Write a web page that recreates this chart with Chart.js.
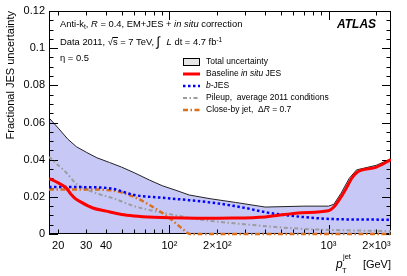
<!DOCTYPE html>
<html>
<head>
<meta charset="utf-8">
<script src="https://cdn.jsdelivr.net/npm/chart.js@4"></script>
<style>
  html, body { margin: 0; padding: 0; background: #fff; }
  canvas { display: block; }
</style>
</head>
<body>
<canvas id="jesChart" width="407" height="276"></canvas>
<script>
// Valeurs (pT en GeV, incertitude relative)
const totalPt = [17.5, 20, 23, 26, 30, 35, 42, 50, 60, 75, 90, 110, 133, 180, 260, 400, 700, 1000, 1080, 1200, 1350, 1500, 2000, 2470]
const totalUnc = [0.0625, 0.057, 0.051, 0.047, 0.044, 0.041, 0.0385, 0.036, 0.033, 0.029, 0.026, 0.0235, 0.021, 0.019, 0.017, 0.0145, 0.015, 0.015, 0.016, 0.022, 0.030, 0.0345, 0.037, 0.0405]

const baselinePt = [17.5, 20, 22.5, 24, 25.5, 28, 33, 40, 50, 60, 80, 100, 150, 250, 400, 680, 1000, 1080, 1200, 1300, 1400, 1500, 2000, 2470]
const baselineUnc = [0.0298, 0.0275, 0.0247, 0.0215, 0.0192, 0.017, 0.014, 0.0123, 0.0105, 0.0097, 0.009, 0.0087, 0.0085, 0.0086, 0.0092, 0.0115, 0.0125, 0.0145, 0.020, 0.025, 0.030, 0.033, 0.036, 0.040]

const bjesPt = [17.5, 30, 43, 60, 90, 133, 200, 300, 414, 680, 1100, 2470]
const bjesUnc = [0.0253, 0.0252, 0.0245, 0.021, 0.0195, 0.0182, 0.0165, 0.014, 0.0115, 0.0092, 0.008, 0.0077]

const pileupPt = [17.5, 20, 22.5, 26, 33, 45, 60, 100, 155, 275, 680, 2470]
const pileupUnc = [0.0415, 0.037, 0.033, 0.027, 0.0226, 0.019, 0.015, 0.0107, 0.0078, 0.0055, 0.0028, 0.0015]

const closebyPt = [17.5, 30, 43, 56, 75, 100, 120, 135, 2470]
const closebyUnc = [0.024, 0.024, 0.0235, 0.021, 0.0156, 0.0086, 0.003, 0, 0]

// Axes
const xTickVals = [20, 30, 40, 100, 200, 1000, 2000]
const xTickLabels = ['20', '30', '40', '10²', '2×10²', '10³', '2×10³']
const yTickVals = [0, 0.02, 0.04, 0.06, 0.08, 0.1, 0.12]
const yTickLabels = ['0', '0.02', '0.04', '0.06', '0.08', '0.1', '0.12']

const toPoints = (xs, ys) => xs.map((x, i) => ({ x: x, y: ys[i] }))

const FONT = '"Liberation Sans", Arial, Helvetica, sans-serif'

// Dessine une suite de morceaux de texte (normal, italique, indice, exposant)
function drawRuns(ctx, x, y, runs, size) {
    runs.forEach(r => {
        const s = r.small ? size * 0.7 : size
        ctx.font = (r.it ? 'italic ' : '') + s + 'px ' + FONT
        ctx.fillText(r.t, x, y + (r.dy || 0))
        x += ctx.measureText(r.t).width
    })
    return x
}

// Cadre et graduations : dessinés juste après le remplissage, sous les courbes
function drawFrame(chart) {
    const ctx = chart.ctx
    const area = chart.chartArea
    const xs = chart.scales.x
    const ys = chart.scales.y
    ctx.save()
    ctx.strokeStyle = '#000'
    ctx.lineWidth = 1
    ctx.strokeRect(area.left + 0.5, area.top + 0.5, area.right - area.left - 1, area.bottom - area.top - 1)

    ctx.beginPath()
    for (let v = 0; v <= 0.12 + 1e-9; v += 0.005) {
        const py = Math.round(ys.getPixelForValue(v)) + 0.5
        const major = Math.abs(v / 0.02 - Math.round(v / 0.02)) < 1e-6
        const len = major ? 9 : 4.5
        ctx.moveTo(area.left, py); ctx.lineTo(area.left + len, py)
        ctx.moveTo(area.right, py); ctx.lineTo(area.right - len, py)
    }
    for (let dec = 10; dec <= 1000; dec *= 10) {
        for (let k = 1; k <= 9; k++) {
            const v = dec * k
            if (v < xs.min || v > xs.max) continue
            const px = Math.round(xs.getPixelForValue(v)) + 0.5
            const len = k === 1 ? 9 : 4.5
            ctx.moveTo(px, area.bottom); ctx.lineTo(px, area.bottom - len)
            ctx.moveTo(px, area.top); ctx.lineTo(px, area.top + len)
        }
    }
    ctx.stroke()
    ctx.restore()
}

const atlasPlugin = {
    id: 'atlasDecor',
    afterDatasetDraw(chart, args) {
        if (args.index === 0) drawFrame(chart)
    },
    afterDraw(chart) {
        const ctx = chart.ctx
        const area = chart.chartArea
        const xs = chart.scales.x
        const ys = chart.scales.y
        ctx.save()
        ctx.fillStyle = '#000'
        ctx.strokeStyle = '#000'
        ctx.lineWidth = 1

        // étiquettes Y
        ctx.font = '11px ' + FONT
        ctx.textAlign = 'right'
        ctx.textBaseline = 'middle'
        yTickVals.forEach((v, i) => {
            ctx.fillText(yTickLabels[i], area.left - 4, ys.getPixelForValue(v))
        })
        // étiquettes X
        ctx.textAlign = 'center'
        ctx.textBaseline = 'top'
        xTickVals.forEach((v, i) => {
            ctx.fillText(xTickLabels[i], xs.getPixelForValue(v), area.bottom + 6)
        })

        // titre Y
        ctx.save()
        ctx.translate(14, area.top)
        ctx.rotate(-Math.PI / 2)
        ctx.textAlign = 'right'
        ctx.textBaseline = 'alphabetic'
        ctx.font = '11px ' + FONT
        ctx.fillText('Fractional JES uncertainty', 0, 0)
        ctx.restore()

        // titre X
        ctx.textAlign = 'left'
        ctx.textBaseline = 'alphabetic'
        ctx.font = '11px ' + FONT
        const gevW = ctx.measureText('[GeV]').width
        ctx.fillText('[GeV]', area.right - gevW, 268)
        ctx.font = 'italic 12px ' + FONT
        ctx.fillText('p', 336, 268)
        ctx.font = '7.5px ' + FONT
        ctx.fillText('T', 342, 273)
        ctx.fillText('jet', 343, 259)

        // textes de l'analyse
        const s = 9.4
        drawRuns(ctx, 60, 27, [
            { t: 'Anti-k' }, { t: 't', small: true, dy: 2 }, { t: ', ' }, { t: 'R', it: true },
            { t: ' = 0.4, EM+JES + ' }, { t: 'in situ', it: true }, { t: ' correction' }
        ], s)
        let xe = drawRuns(ctx, 60, 45, [{ t: 'Data 2011, ' }], s)
        ctx.font = s + 'px ' + FONT
        ctx.fillText('√', xe, 45)
        const rw = ctx.measureText('√').width
        ctx.beginPath()
        ctx.moveTo(xe + rw - 0.5, 37.5); ctx.lineTo(xe + rw + 5, 37.5)
        ctx.stroke()
        xe = drawRuns(ctx, xe + rw, 45, [{ t: 's' }, { t: ' = 7 TeV, ' }], s)
        ctx.font = '13px ' + FONT
        ctx.fillText('∫', xe, 46)
        drawRuns(ctx, xe + 10, 45, [
            { t: 'L', it: true }, { t: ' dt = 4.7 fb' }, { t: '-1', small: true, dy: -3.5 }
        ], s)
        drawRuns(ctx, 60, 61, [{ t: 'η = 0.5' }], s)

        ctx.font = 'italic bold 12px ' + FONT
        ctx.fillText('ATLAS', 337, 28)

        // légende
        const ls = 8.5
        const lx0 = 183, lx1 = 200, tx = 206
        const rows = [62, 74, 86, 98, 110]
        ctx.textBaseline = 'middle'
        ctx.fillStyle = '#e6e6e6'
        ctx.fillRect(lx0, rows[0] - 4, lx1 - lx0, 8)
        ctx.strokeRect(lx0 + 0.5, rows[0] - 3.5, lx1 - lx0 - 1, 7)
        ctx.fillStyle = '#000'
        const legendLine = (ds, y) => {
            ctx.save()
            ctx.strokeStyle = ds.borderColor
            ctx.lineWidth = ds.borderWidth
            ctx.setLineDash(ds.borderDash || [])
            ctx.beginPath()
            ctx.moveTo(lx0, y); ctx.lineTo(lx1, y)
            ctx.stroke()
            ctx.restore()
        }
        const dss = chart.data.datasets
        legendLine(dss[1], rows[1])
        legendLine(dss[2], rows[2])
        legendLine(dss[3], rows[3])
        legendLine(dss[4], rows[4])
        drawRuns(ctx, tx, rows[0], [{ t: 'Total uncertainty' }], ls)
        drawRuns(ctx, tx, rows[1], [{ t: 'Baseline ' }, { t: 'in situ', it: true }, { t: ' JES' }], ls)
        drawRuns(ctx, tx, rows[2], [{ t: 'b', it: true }, { t: '-JES' }], ls)
        drawRuns(ctx, tx, rows[3], [{ t: 'Pileup,  average 2011 conditions' }], ls)
        drawRuns(ctx, tx, rows[4], [{ t: 'Close-by jet,  Δ' }, { t: 'R', it: true }, { t: ' = 0.7' }], ls)
        ctx.restore()
    }
}

const config = {
    type: 'line',
    data: {
        datasets: [
            {
                label: 'Total uncertainty',
                data: toPoints(totalPt, totalUnc),
                borderColor: '#222',
                borderWidth: 1,
                backgroundColor: '#c8c8f6',
                fill: 'origin',
                pointRadius: 0,
                tension: 0,
                order: 10
            },
            {
                label: 'Baseline in situ JES',
                data: toPoints(baselinePt, baselineUnc),
                borderColor: '#ff0000',
                borderWidth: 3,
                pointRadius: 0,
                cubicInterpolationMode: 'monotone',
                order: 1
            },
            {
                label: 'b-JES',
                data: toPoints(bjesPt, bjesUnc),
                borderColor: '#0000ff',
                borderWidth: 2.5,
                borderDash: [2.5, 2.5],
                pointRadius: 0,
                cubicInterpolationMode: 'monotone',
                order: 2
            },
            {
                label: 'Pileup, average 2011 conditions',
                data: toPoints(pileupPt, pileupUnc),
                borderColor: '#9c9c9c',
                borderWidth: 2,
                borderDash: [4, 2.5, 1.5, 2.5],
                pointRadius: 0,
                cubicInterpolationMode: 'monotone',
                order: 4
            },
            {
                label: 'Close-by jet, ΔR = 0.7',
                data: toPoints(closebyPt, closebyUnc),
                borderColor: '#d8701c',
                borderWidth: 2.5,
                borderDash: [5, 2.5, 1.5, 2.5],
                pointRadius: 0,
                cubicInterpolationMode: 'monotone',
                clip: 4,
                order: 3
            }
        ]
    },
    options: {
        responsive: false,
        animation: false,
        devicePixelRatio: 1,
        layout: { padding: { left: 49, right: 16, top: 11, bottom: 42 } },
        plugins: { legend: { display: false }, tooltip: { enabled: false } },
        scales: {
            x: { type: 'logarithmic', min: 17.5, max: 2470, display: false },
            y: { type: 'linear', min: 0, max: 0.12, display: false }
        }
    },
    plugins: [atlasPlugin]
}

new Chart(document.getElementById('jesChart'), config)
</script>
</body>
</html>
